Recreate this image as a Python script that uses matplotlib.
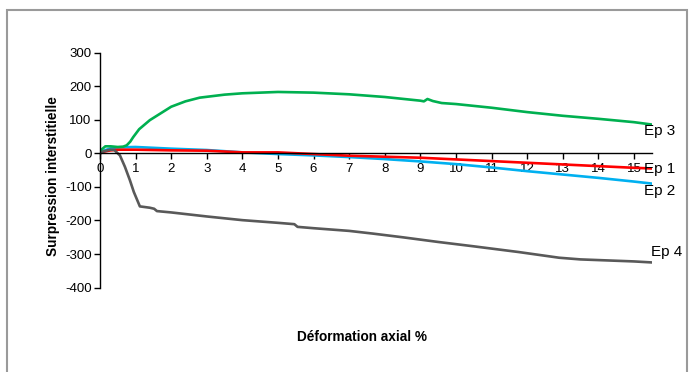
import numpy as np
import matplotlib
matplotlib.use("Agg")
import matplotlib.pyplot as plt
from matplotlib.patches import Rectangle

plt.rcParams['font.family'] = ['Liberation Sans', 'DejaVu Sans']
plt.rcParams['axes.unicode_minus'] = False

# Ep 1 (rouge)
x_ep1 = [0, 0.1, 0.3, 0.5, 1, 2, 3, 4, 5, 6, 7, 8, 9, 10, 11, 12, 13, 14, 15, 15.5]
y_ep1 = [0, 5, 9, 11, 11, 9, 8, 3, 3, -2, -7, -10, -13, -18, -23, -28, -33, -38, -43, -45]

# Ep 2 (bleu)
x_ep2 = [0, 0.1, 0.3, 0.5, 1, 2, 3, 4, 5, 6, 7, 8, 9, 10, 11, 12, 13, 14, 15, 15.5]
y_ep2 = [0, 8, 15, 18, 19, 14, 10, 3, -2, -6, -11, -17, -24, -32, -42, -53, -63, -73, -84, -90]

# Ep 3 (vert)
x_ep3 = [0, 0.05, 0.15, 0.3, 0.5, 0.65, 0.75, 0.85, 0.93, 1.1, 1.4, 2, 2.4, 2.8, 3.5, 4, 4.5,
         5, 6, 7, 8, 9, 9.1, 9.2, 9.35, 9.6, 10, 11, 12, 13, 14, 15, 15.5]
y_ep3 = [0, 12, 21, 21, 19, 20, 24, 35, 48, 72, 99, 139, 155, 166, 175, 179, 181,
         183, 181, 176, 168, 157, 155, 162, 156, 150, 147, 136, 123, 112, 103, 93, 86]

# Ep 4 (gris)
x_ep4 = [0, 0.1, 0.28, 0.4, 0.56, 0.7, 0.84, 0.95, 1.12, 1.4, 1.52, 1.6, 2, 3, 4, 5,
         5.46, 5.55, 6, 7, 7.66, 8.5, 9.5, 10.5, 11.76, 12.9, 13.5, 14, 15, 15.5]
y_ep4 = [0, 6, 11, 10, -6, -40, -80, -115, -158, -162, -165, -172, -176, -188, -199, -207,
         -211, -219, -223, -231, -239, -250, -264, -277, -294, -311, -316, -318, -322, -325]

fig = plt.figure(figsize=(6.91, 3.72), dpi=100)
ax = fig.add_axes([100/691, 84.4/372, 551.7/691, 234.9/372])

ax.plot(x_ep2, y_ep2, c='#00B0F0', lw=1.9)
ax.plot(x_ep1, y_ep1, c='#FF0000', lw=1.9)
ax.plot(x_ep3, y_ep3, c='#00B050', lw=1.9)
ax.plot(x_ep4, y_ep4, c='#595959', lw=1.9)

ax.set_xlim(0, 15.5)
ax.set_ylim(-400, 300)
ax.set_xticks(range(0, 16))
ax.set_yticks(range(-400, 301, 100))

ax.spines['top'].set_visible(False)
ax.spines['right'].set_visible(False)
ax.spines['bottom'].set_position(('data', 0))
ax.spines['left'].set_linewidth(1.0)
ax.spines['bottom'].set_linewidth(1.0)
ax.tick_params(axis='both', direction='out', length=4, width=1, labelsize=9.5, pad=2)
ax.tick_params(axis='x', pad=3)
ax.patch.set_alpha(0)

# étiquettes des séries
for txt, xx, yy in [("Ep 3", 15.28, 67), ("Ep 1", 15.28, -48),
                    ("Ep 2", 15.28, -111), ("Ep 4", 15.47, -293)]:
    ax.text(xx, yy, txt, fontsize=11, va='center', ha='left', clip_on=False)

fig.text(53/691, 1 - 176/372, "Surpression interstitielle", rotation=90,
         fontsize=9.8, fontweight='bold', ha='center', va='center')
fig.text(362/691, 1 - 337/372, "Déformation axial %", fontsize=9.8,
         fontweight='bold', ha='center', va='center')

fig.patches.append(Rectangle((7/691, -0.1), 680/691, 1.1 - 10/372, transform=fig.transFigure,
                             fill=False, edgecolor='#9a9a9a', lw=1.5))

fig.savefig("out.png", dpi=100)
